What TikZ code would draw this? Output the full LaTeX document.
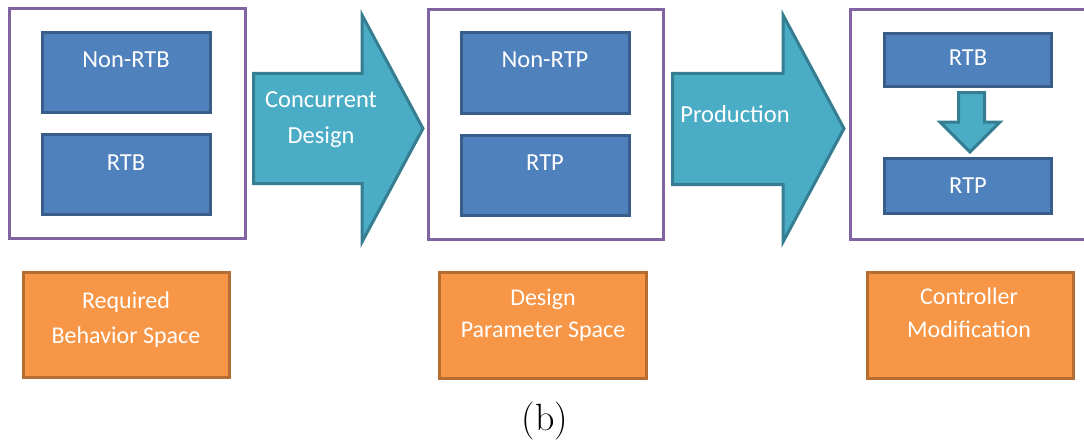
\documentclass[tikz,border=0pt]{standalone}
\usepackage{fontspec}
\newfontfamily\calfont{Carlito}
\definecolor{purpleline}{HTML}{8064A2}
\definecolor{bluefill}{HTML}{4F81BD}
\definecolor{blueline}{HTML}{385D8A}
\definecolor{tealfill}{HTML}{4BACC6}
\definecolor{tealline}{HTML}{357D91}
\definecolor{orangefill}{HTML}{F79646}
\definecolor{orangeline}{HTML}{B66D31}
\tikzset{
  spacebox/.style={draw=purpleline, line width=3pt, fill=white},
  bluebox/.style={rectangle, draw=blueline, fill=bluefill, line width=3pt, inner sep=0pt},
  orangebox/.style={rectangle, draw=orangeline, fill=orangefill, line width=3pt, inner sep=0pt},
  bigarrow/.style={draw=tealline, fill=tealfill, line width=3pt, line join=miter},
  wtext/.style={text=white, font=\calfont\fontsize{24.5}{28}\selectfont, inner sep=0pt, anchor=base},
  otext/.style={text=white, font=\calfont\fontsize{24}{28}\selectfont, inner sep=0pt, anchor=base},
}
\begin{document}
\begin{tikzpicture}[x=1pt,y=-1pt]
\useasboundingbox (0,0) rectangle (1084,444);
\clip (0,0) rectangle (1084,444);
% purple space boxes
\draw[spacebox] (9.5,8.5) rectangle (245.5,238.5);
\draw[spacebox] (428.5,9.5) rectangle (663.5,239.5);
\draw[spacebox] (850.5,9.5) rectangle (1095,239.5);
% blue boxes
\node[bluebox, minimum width=168pt, minimum height=80pt] (b1a) at (126.5,72.5) {};
\node[bluebox, minimum width=168pt, minimum height=80pt] (b1b) at (126.5,174.5) {};
\node[bluebox, minimum width=168pt, minimum height=81pt] (b2a) at (545.5,73) {};
\node[bluebox, minimum width=168pt, minimum height=80pt] (b2b) at (545.5,175.5) {};
\node[bluebox, minimum width=167pt, minimum height=53pt] (b3a) at (968,60) {};
\node[bluebox, minimum width=167pt, minimum height=55pt] (b3b) at (968,186) {};
\node[wtext] (t1a) at (126,67) {Non-RTB};
\node[wtext] (t1b) at (126,170) {RTB};
\node[wtext] (t2a) at (545,67) {Non-RTP};
\node[wtext] (t2b) at (545,170) {RTP};
\node[wtext] (t3a) at (968,66) {RTB};
\node[wtext] (t3b) at (968,193) {RTP};
% small arrow RTB -> RTP
\draw[bigarrow] (958.5,92.5) -- (984.5,92.5) -- (984.5,122) -- (1000,122) -- (970,152) -- (940,122) -- (958.5,122) -- cycle;
% big arrows
\draw[bigarrow] (253.5,73.5) -- (362,73.5) -- (362,15) -- (423,128.5) -- (362,242) -- (362,183.5) -- (253.5,183.5) -- cycle;
\draw[bigarrow] (672.5,73.5) -- (783,73.5) -- (783,15) -- (844,128.5) -- (783,242) -- (783,184.5) -- (672.5,184.5) -- cycle;
\node[wtext] (c1) at (321,107) {Concurrent};
\node[wtext] (c2) at (321,143) {Design};
\node[wtext] (p1) at (735,122) {Production};
% orange boxes
\node[orangebox, minimum width=206pt, minimum height=105pt] (o1) at (126.5,325) {};
\node[orangebox, minimum width=207pt, minimum height=106pt] (o2) at (543,325.5) {};
\node[orangebox, minimum width=206pt, minimum height=106pt] (o3) at (970.5,325.5) {};
\node[otext] (o1a) at (126,308) {Required};
\node[otext] (o1b) at (126,343) {Behavior Space};
\node[otext] (o2a) at (543,305) {Design};
\node[otext] (o2b) at (543,337) {Parameter Space};
\node[otext] (o3a) at (969,304) {Controller};
\node[otext] (o3b) at (969,337) {Modification};
% caption
\node[inner sep=0pt, font=\fontsize{38}{44}\selectfont] (cap) at (545,421) {(b)};
\end{tikzpicture}
\end{document}
